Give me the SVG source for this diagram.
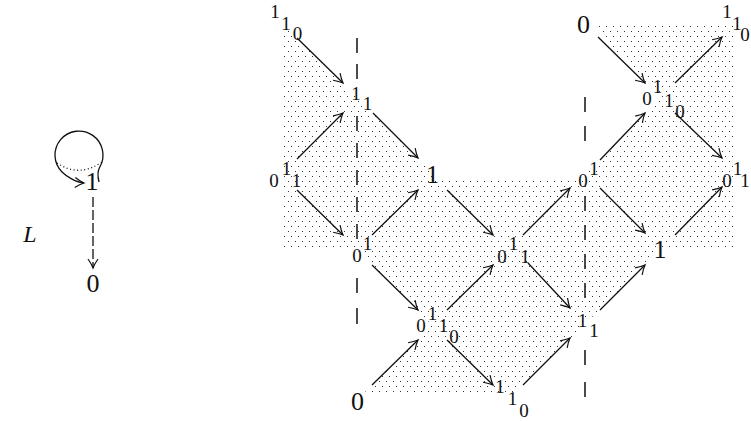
<svg xmlns="http://www.w3.org/2000/svg" width="751" height="421" viewBox="0 0 751 421">
<defs>
<pattern id="dots" width="7" height="10" patternUnits="userSpaceOnUse">
<rect x="1" y="1" width="1" height="1" fill="#333"/>
<rect x="4" y="6" width="1" height="1" fill="#333"/>
</pattern>
<marker id="ah" markerUnits="userSpaceOnUse" markerWidth="16" markerHeight="16" viewBox="-12 -8 16 16" refX="0" refY="0" orient="auto">
<path d="M-9,-5 Q-4,-1.5 0,0 Q-4,1.5 -9,5" fill="none" stroke="#111" stroke-width="1.2"/>
</marker>
<style>
text{font-family:"Liberation Serif","Times New Roman",serif;fill:#111;text-anchor:middle}
.s{font-size:19px}
.b{font-size:26px}
.arr{fill:none;stroke:#111;stroke-width:1.3;marker-end:url(#ah)}
.dash{fill:none;stroke:#111;stroke-width:1.5}
</style>
</defs>
<rect width="751" height="421" fill="#fff"/>
<g id="shading">
<path d="M283,30 L289,30 L432,173 L438,178 L582,178 L660,98 L592,25 L734,25 L734,249 L661,249 L512,396 L361,396 L432,325 L355,248 L283,248 Z" fill="url(#dots)"/>
</g>
<g id="dashed-lines">
<path class="dash" d="M357,38V53M357,64V79M357,116V131M357,143V158M357,170V185M357,197V212M357,224V239M357,278V293M357,308V324"/>
<path class="dash" d="M585,97V112M585,126V141M585,196V211M585,225V240M585,254V269M585,283V298M585,350V365M585,382V397"/>
</g>
<g id="connectors">
<line class="arr" x1="297" y1="38" x2="343" y2="83"/>
<line class="arr" x1="297" y1="159" x2="343" y2="113"/>
<line class="arr" x1="373" y1="113" x2="418" y2="158"/>
<line class="arr" x1="297" y1="190" x2="343" y2="235"/>
<line class="arr" x1="372" y1="235" x2="418" y2="190"/>
<line class="arr" x1="447" y1="190" x2="493" y2="235"/>
<line class="arr" x1="372" y1="265" x2="418" y2="310"/>
<line class="arr" x1="447" y1="310" x2="493" y2="265"/>
<line class="arr" x1="372" y1="385" x2="418" y2="340"/>
<line class="arr" x1="447" y1="340" x2="493" y2="385"/>
<line class="arr" x1="523" y1="385" x2="570" y2="338"/>
<line class="arr" x1="523" y1="235" x2="570" y2="188"/>
<line class="arr" x1="528" y1="263" x2="570" y2="308"/>
<line class="arr" x1="600" y1="160" x2="645" y2="113"/>
<line class="arr" x1="598" y1="37" x2="645" y2="83"/>
<line class="arr" x1="675" y1="83" x2="722" y2="37"/>
<line class="arr" x1="675" y1="113" x2="722" y2="158"/>
<line class="arr" x1="600" y1="188" x2="645" y2="233"/>
<line class="arr" x1="675" y1="235" x2="722" y2="187"/>
<line class="arr" x1="600" y1="310" x2="645" y2="265"/>
<path class="arr" d="M99,182 C98,178 97.3,171.3 99.8,167 A24,24 0 1 0 62,172 C66.2,176.2 76,182.5 84,183"/>
<line class="arr" x1="93" y1="197" x2="93" y2="268" style="stroke-dasharray:10 3"/>
</g>
<g id="sphere-equator">
<path d="M57,163 Q79,178 102,162" fill="none" stroke="#111" stroke-width="1.3" stroke-dasharray="1 2.6"/>
</g>
<g id="node-left-1"><text class="b" x="92" y="190">1</text></g>
<g id="node-left-0"><text class="b" x="93" y="292">0</text></g>
<g id="label-L"><text x="30" y="242" style="font-size:24px;font-style:italic">L</text></g>
<g id="node-A" class="s"><text x="275" y="18">1</text><text x="286" y="30">1</text><text x="297.5" y="40">0</text></g>
<g id="node-B" class="s"><text x="356" y="100">1</text><text x="367.5" y="110">1</text></g>
<g id="node-C" class="s"><text x="274" y="187">0</text><text x="286.5" y="175">1</text><text x="296.5" y="187">1</text></g>
<g id="node-D"><text class="b" x="432.5" y="183">1</text></g>
<g id="node-E" class="s"><text x="357" y="262">0</text><text x="367.5" y="250">1</text></g>
<g id="node-F" class="s"><text x="502" y="263">0</text><text x="513.5" y="250">1</text><text x="525" y="263">1</text></g>
<g id="node-G" class="s"><text x="421" y="332">0</text><text x="432.5" y="320">1</text><text x="443.5" y="332">1</text><text x="454" y="343">0</text></g>
<g id="node-H"><text class="b" x="357.5" y="410">0</text></g>
<g id="node-I" class="s"><text x="500" y="393">1</text><text x="512.5" y="405">1</text><text x="524" y="417">0</text></g>
<g id="node-J" class="s"><text x="582.5" y="327">1</text><text x="594" y="337">1</text></g>
<g id="node-K" class="s"><text x="583" y="187">0</text><text x="594" y="175">1</text></g>
<g id="node-L"><text class="b" x="660" y="258">1</text></g>
<g id="node-M" class="s"><text x="727" y="187">0</text><text x="737.5" y="175">1</text><text x="745" y="187">1</text></g>
<g id="node-N" class="s"><text x="647" y="105">0</text><text x="657.5" y="93">1</text><text x="669" y="107">1</text><text x="680" y="118">0</text></g>
<g id="node-O"><text class="b" x="583.5" y="33">0</text></g>
<g id="node-P" class="s"><text x="727" y="18">1</text><text x="737" y="30">1</text><text x="745" y="41">0</text></g>
</svg>
